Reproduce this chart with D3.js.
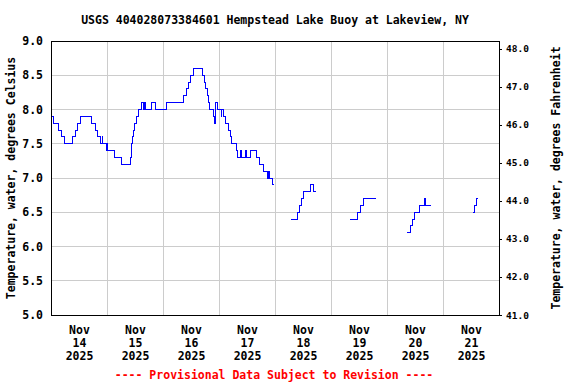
<!DOCTYPE html>
<html>
<head>
<meta charset="utf-8">
<style>
  body { margin: 0; background: #fff; }
  svg { display: block; }
  text { font-family: "DejaVu Sans Mono", monospace; font-weight: bold; }
</style>
</head>
<body>
<svg id="chart" width="576" height="384"></svg>

<script src="https://d3js.org/d3.v7.min.js"></script>
<script>
  // hours since 2025-11-14 00:00, null = gap in record
  const hours = [
    0.0, 1.0, 3.3, 4.3, 5.6, 9.3, 10.3, 11.4, 12.6, 17.4, 18.9, 20.0, 21.3, 21.9, 22.2,
    23.9, 24.1, 24.4, 27.3, 30.1, 34.0, 34.4, 34.7, 35.1, 35.4, 35.6, 36.7, 37.7, 38.6,
    39.6, 39.9, 40.3, 43.2, 44.6, 49.4, 56.9, 58.0, 58.8, 59.7, 61.0, 64.8, 65.6, 66.1,
    67.2, 67.6, 67.8, 69.6, 69.9, 70.3, 70.7, 71.3, 72.9, 73.2, 74.1, 74.6, 76.0, 77.0,
    77.4, 79.3, 79.8, 81.0, 81.7, 83.3, 83.9, 85.6, 88.2, 89.3, 91.0, 92.7, 93.1, 93.6,
    95.0, 95.6, null,
    102.9, 105.6, 106.4, 107.3, 108.3, 111.3, 112.4, 113.4, null,
    128.1, 131.4, 132.6, 134.0, 139.3, null,
    152.4, 153.9, 155.0, 155.6, 157.8, 159.9, 160.3, 162.9, null,
    181.0, 181.5, 182.4, 183.1
  ];
  const tempC = [
    7.9, 7.8, 7.7, 7.6, 7.5, 7.6, 7.7, 7.8, 7.9, 7.8, 7.7, 7.6, 7.5, 7.6, 7.5,
    7.4, 7.5, 7.4, 7.3, 7.2, 7.3, 7.4, 7.5, 7.6, 7.7, 7.8, 7.9, 8.0, 8.1,
    8.0, 8.1, 8.0, 8.1, 8.0, 8.1, 8.2, 8.3, 8.4, 8.5, 8.6, 8.5, 8.4, 8.3,
    8.2, 8.1, 8.0, 7.9, 7.8, 7.9, 8.1, 8.0, 7.9, 8.0, 7.9, 7.8, 7.7, 7.6,
    7.5, 7.4, 7.3, 7.4, 7.3, 7.4, 7.3, 7.4, 7.3, 7.2, 7.1, 7.0, 7.1, 7.0,
    6.9, 6.9, null,
    6.4, 6.5, 6.6, 6.7, 6.8, 6.9, 6.8, 6.8, null,
    6.4, 6.5, 6.6, 6.7, 6.7, null,
    6.2, 6.3, 6.4, 6.5, 6.6, 6.7, 6.6, 6.6, null,
    6.5, 6.6, 6.7, 6.7
  ];

  const celsiusTicks = [5.0, 5.5, 6.0, 6.5, 7.0, 7.5, 8.0, 8.5, 9.0];
  const fahrenheitTicks = [41, 42, 43, 44, 45, 46, 47, 48];
  const dayLabels = [14, 15, 16, 17, 18, 19, 20, 21];

  const title = "USGS 404028073384601 Hempstead Lake Buoy at Lakeview, NY";
  const leftTitle = "Temperature, water, degrees Celsius";
  const rightTitle = "Temperature, water, degrees Fahrenheit";
  const footer = "---- Provisional Data Subject to Revision ----";

  const plotLeft = 51, plotRight = 499, plotTop = 41, plotBottom = 315;
  const t0 = Date.UTC(2025, 10, 14);

  const svg = d3.select("#chart");

  const x = d3.scaleUtc()
    .domain([new Date(t0), new Date(Date.UTC(2025, 10, 22))])
    .range([plotLeft, plotRight]);
  const y = d3.scaleLinear().domain([5, 9]).range([plotBottom, plotTop]);
  const yF = d3.scaleLinear().domain([5 * 1.8 + 32, 9 * 1.8 + 32]).range([plotBottom, plotTop]);

  const data = hours.map((h, i) => ({
    t: h == null ? null : new Date(t0 + h * 3600e3),
    v: tempC[i]
  }));

  // grid
  const grid = svg.append("g").attr("stroke", "#cccccc").attr("shape-rendering", "crispEdges");
  grid.selectAll("line.h")
    .data(celsiusTicks)
    .join("line")
    .attr("x1", plotLeft).attr("x2", plotRight)
    .attr("y1", d => y(d)).attr("y2", d => y(d));
  grid.selectAll("line.v")
    .data(dayLabels.slice(1))
    .join("line")
    .attr("x1", d => x(new Date(Date.UTC(2025, 10, d))))
    .attr("x2", d => x(new Date(Date.UTC(2025, 10, d))))
    .attr("y1", plotTop).attr("y2", plotBottom);

  // left axis (Celsius)
  const yAxis = svg.append("g")
    .attr("transform", `translate(${plotLeft},0)`)
    .call(d3.axisLeft(y).tickValues(celsiusTicks).tickSize(0).tickPadding(8).tickFormat(d3.format(".1f")));
  yAxis.select(".domain").remove();
  yAxis.selectAll("text").attr("font-size", 11.5).attr("font-family", null).attr("fill", "#000");

  // right axis (Fahrenheit)
  const fAxis = svg.append("g")
    .attr("transform", `translate(${plotRight},0)`)
    .call(d3.axisRight(yF).tickValues(fahrenheitTicks).tickSize(3).tickPadding(4).tickFormat(d3.format(".1f")));
  fAxis.select(".domain").remove();
  fAxis.selectAll("line").attr("shape-rendering", "crispEdges");
  fAxis.selectAll("text").attr("font-size", 9.5).attr("font-family", null).attr("fill", "#000");

  // bottom labels at noon of each day
  const xAxis = svg.append("g")
    .attr("transform", `translate(0,${plotBottom})`)
    .call(d3.axisBottom(x)
      .tickValues(dayLabels.map(d => new Date(Date.UTC(2025, 10, d, 12))))
      .tickSize(0)
      .tickFormat(""));
  xAxis.select(".domain").remove();
  xAxis.selectAll(".tick text")
    .attr("font-size", 11.5).attr("font-family", null).attr("fill", "#000")
    .attr("y", 0).attr("dy", null)
    .each(function (d) {
      const t = d3.select(this);
      ["Nov", String(d.getUTCDate()), String(d.getUTCFullYear())].forEach((s, i) => {
        t.append("tspan").attr("x", 0).attr("y", 19 + i * 12.8).text(s);
      });
    });

  // data line
  const line = d3.line()
    .defined(d => d.t != null && d.v != null)
    .x(d => x(d.t))
    .y(d => y(d.v))
    .curve(d3.curveStepAfter);

  svg.append("path")
    .datum(data)
    .attr("fill", "none")
    .attr("stroke", "#0000ff")
    .attr("stroke-width", 1)
    .attr("shape-rendering", "crispEdges")
    .attr("d", line);

  // frame
  svg.append("rect")
    .attr("x", plotLeft).attr("y", plotTop)
    .attr("width", plotRight - plotLeft).attr("height", plotBottom - plotTop)
    .attr("fill", "none").attr("stroke", "#000").attr("shape-rendering", "crispEdges");

  // titles
  svg.append("text")
    .attr("x", 275).attr("y", 24)
    .attr("text-anchor", "middle").attr("font-size", 11.5)
    .text(title);

  svg.append("text")
    .attr("transform", `translate(15,${(plotTop + plotBottom) / 2}) rotate(-90)`)
    .attr("text-anchor", "middle").attr("font-size", 11.5)
    .text(leftTitle);

  svg.append("text")
    .attr("transform", `translate(560,${(plotTop + plotBottom) / 2}) rotate(-90)`)
    .attr("text-anchor", "middle").attr("font-size", 11.5)
    .text(rightTitle);

  svg.append("text")
    .attr("x", 274).attr("y", 379)
    .attr("text-anchor", "middle").attr("font-size", 11.5)
    .attr("fill", "#ff0000")
    .text(footer);
</script>
</body>
</html>
